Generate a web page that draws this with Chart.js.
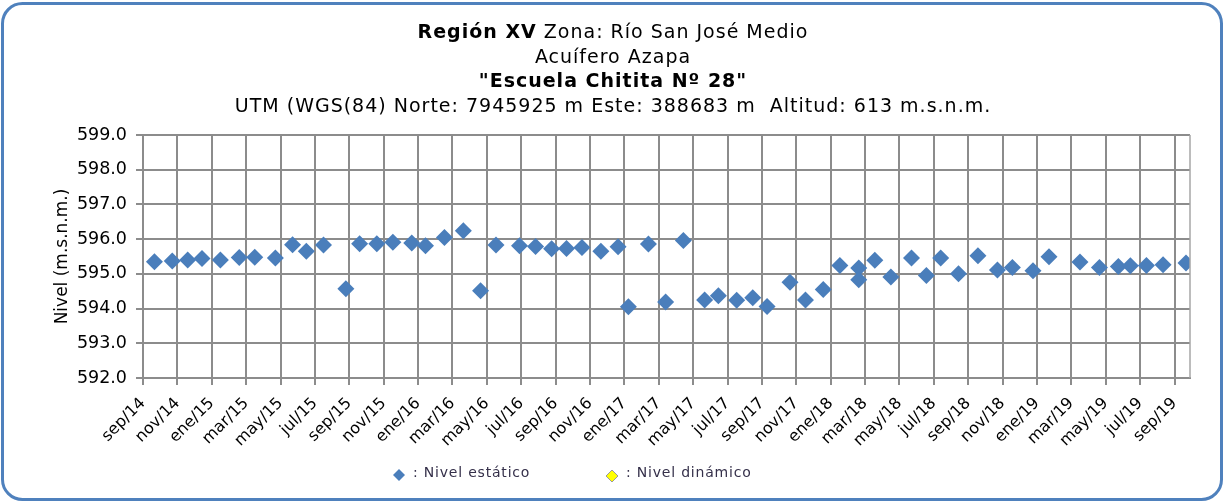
<!DOCTYPE html>
<html>
<head>
<meta charset="utf-8">
<script src="https://cdn.jsdelivr.net/npm/chart.js@4.4.1/dist/chart.umd.min.js"></script>
<style>
  html, body { margin: 0; padding: 0; background: #fff; }
  #wrap { width: 1225px; height: 502px; }
</style>
</head>
<body>
<div id="wrap"><canvas id="grafico" width="1225" height="502"></canvas></div>
<script>
// fechas de medición y nivel estático (m.s.n.m.)
const fechas = [
  '2014-09-21', '2014-10-22', '2014-11-19', '2014-12-14', '2015-01-16', '2015-02-19',
  '2015-03-16', '2015-04-22', '2015-05-22', '2015-06-16', '2015-07-16', '2015-08-25',
  '2015-09-19', '2015-10-19', '2015-11-17', '2015-12-20', '2016-01-14', '2016-02-17',
  '2016-03-20', '2016-04-20', '2016-05-17', '2016-06-28', '2016-07-26', '2016-08-24',
  '2016-09-20', '2016-10-17', '2016-11-20', '2016-12-20', '2017-01-08', '2017-02-13',
  '2017-03-13', '2017-04-14', '2017-05-21', '2017-06-15', '2017-07-17', '2017-08-15',
  '2017-09-10', '2017-10-20', '2017-11-17', '2017-12-18', '2018-01-17', '2018-02-20',
  '2018-02-20', '2018-03-18', '2018-04-16', '2018-05-22', '2018-06-18', '2018-07-13',
  '2018-08-14', '2018-09-18', '2018-10-22', '2018-11-18', '2018-12-24', '2019-01-22',
  '2019-03-16', '2019-04-20', '2019-05-23', '2019-06-14', '2019-07-12', '2019-08-11',
  '2019-09-21'
];
const nivelEstatico = [
  595.35, 595.37, 595.40, 595.44, 595.40, 595.47,
  595.48, 595.46, 595.84, 595.65, 595.83, 594.57,
  595.87, 595.87, 595.91, 595.89, 595.81, 596.05,
  596.24, 594.51, 595.83, 595.81, 595.79, 595.72,
  595.73, 595.76, 595.65, 595.78, 594.05, 595.86,
  594.19, 595.96, 594.25, 594.37, 594.24, 594.31,
  594.06, 594.76, 594.25, 594.55, 595.24, 595.17,
  594.83, 595.39, 594.91, 595.46, 594.95, 595.46,
  595.00, 595.52, 595.11, 595.18, 595.09, 595.49,
  595.34, 595.18, 595.21, 595.23, 595.24, 595.26,
  595.31
];
const nivelDinamico = []; // sin mediciones en el período

const meses = ['ene', 'feb', 'mar', 'abr', 'may', 'jun', 'jul', 'ago', 'sep', 'oct', 'nov', 'dic'];
const ejeY = { min: 592, max: 599, paso: 1 };

const tituloLineas = [
  [{ t: 'Región XV', b: true }, { t: ' Zona: Río San José Medio', b: false }],
  [{ t: 'Acuífero Azapa', b: false }],
  [{ t: '"Escuela Chitita Nº 28"', b: true }],
  [{ t: 'UTM (WGS(84) Norte: 7945925 m Este: 388683 m  Altitud: 613 m.s.n.m.', b: false }]
];

const FUENTE = "'DejaVu Sans', Verdana, sans-serif";

// meses transcurridos desde sep/14
const mesIndice = (f) => {
  const [a, m, d] = f.split('-').map(Number);
  return (a - 2014) * 12 + (m - 9) + (d - 1) / 30;
};
const etiquetaMes = (v) => {
  const total = 8 + Math.round(v); // sep = índice 8
  const anio = 14 + Math.floor(total / 12);
  return meses[total % 12] + '/' + anio;
};

// marco redondeado, títulos y leyenda
const decoracion = {
  id: 'decoracion',
  beforeDraw(chart) {
    const ctx = chart.ctx;
    ctx.save();
    ctx.fillStyle = '#fff';
    ctx.fillRect(0, 0, chart.width, chart.height);
    ctx.restore();
  },
  afterDraw(chart) {
    const ctx = chart.ctx;
    const area = chart.chartArea;
    ctx.save();

    // borde derecho del área de trazado
    ctx.strokeStyle = '#a6a6a6';
    ctx.lineWidth = 1.5;
    ctx.beginPath();
    ctx.moveTo(area.right, area.top);
    ctx.lineTo(area.right, area.bottom);
    ctx.stroke();

    // títulos
    ctx.fillStyle = '#000';
    ctx.textBaseline = 'middle';
    ctx.textAlign = 'left';
    ctx.letterSpacing = '1px';
    tituloLineas.forEach((linea, i) => {
      const fuentes = linea.map(s => (s.b ? 'bold ' : '') + '19px ' + FUENTE);
      let ancho = 0;
      linea.forEach((s, k) => { ctx.font = fuentes[k]; ancho += ctx.measureText(s.t).width; });
      let x = 613 - ancho / 2;
      const y = 33 + i * 24.7;
      linea.forEach((s, k) => {
        ctx.font = fuentes[k];
        ctx.fillText(s.t, x, y);
        x += ctx.measureText(s.t).width;
      });
    });

    // leyenda
    ctx.letterSpacing = '0.8px';
    const posLeyenda = [399, 612];
    chart.data.datasets.forEach((ds, i) => {
      const cx = posLeyenda[i], cy = 475 + i, r = 6;
      ctx.beginPath();
      ctx.moveTo(cx, cy - r);
      ctx.lineTo(cx + r, cy);
      ctx.lineTo(cx, cy + r);
      ctx.lineTo(cx - r, cy);
      ctx.closePath();
      ctx.fillStyle = ds.backgroundColor;
      ctx.fill();
      if (ds.borderWidth) {
        ctx.strokeStyle = ds.borderColor;
        ctx.lineWidth = 1;
        ctx.stroke();
      }
      ctx.font = '14px ' + FUENTE;
      ctx.fillStyle = '#35304a';
      ctx.fillText(ds.label, cx + 14, 473);
    });
    ctx.letterSpacing = '0px';

    // marco exterior
    ctx.strokeStyle = '#4f81bd';
    ctx.lineWidth = 3;
    ctx.beginPath();
    ctx.roundRect(2.5, 3.5, 1219, 496, 20);
    ctx.stroke();
    ctx.restore();
  }
};

const grilla = { color: '#8c8c8c', lineWidth: 2, tickLength: 7 };

new Chart(document.getElementById('grafico'), {
  type: 'scatter',
  data: {
    datasets: [{
      label: ': Nivel estático',
      data: fechas.map((f, i) => ({ x: mesIndice(f), y: nivelEstatico[i] })),
      pointStyle: 'rectRot',
      pointRadius: 8.5,
      backgroundColor: '#4a7ebb',
      borderColor: '#4a7ebb',
      borderWidth: 0
    }, {
      label: ': Nivel dinámico',
      data: nivelDinamico,
      pointStyle: 'rectRot',
      pointRadius: 8.5,
      backgroundColor: '#ffff00',
      borderColor: '#9a9a9a',
      borderWidth: 1
    }]
  },
  options: {
    responsive: false,
    animation: false,
    layout: { padding: { top: 135, right: 35, bottom: 0, left: 0 } },
    plugins: { legend: { display: false }, tooltip: { enabled: false } },
    scales: {
      x: {
        type: 'linear',
        min: 0,
        max: 60.9,
        afterFit: (s) => { s.height = 124; },
        ticks: {
          stepSize: 2,
          includeBounds: false,
          autoSkip: false,
          maxRotation: 45,
          minRotation: 45,
          padding: 9,
          color: '#000',
          font: { family: FUENTE, size: 16 },
          callback: (v) => etiquetaMes(v)
        },
        grid: grilla,
        border: { color: '#8c8c8c', width: 2 }
      },
      y: {
        min: ejeY.min,
        max: ejeY.max,
        afterFit: (s) => { s.width = 143; },
        ticks: {
          stepSize: ejeY.paso,
          padding: 9,
          color: '#000',
          font: { family: FUENTE, size: 17.5 },
          callback: (v) => v.toFixed(1)
        },
        grid: grilla,
        border: { color: '#8c8c8c', width: 2 },
        title: {
          display: true,
          text: 'Nivel (m.s.n.m.)',
          color: '#000',
          font: { family: FUENTE, size: 17 },
          padding: { top: 52 }
        }
      }
    }
  },
  plugins: [decoracion]
});
</script>
</body>
</html>
